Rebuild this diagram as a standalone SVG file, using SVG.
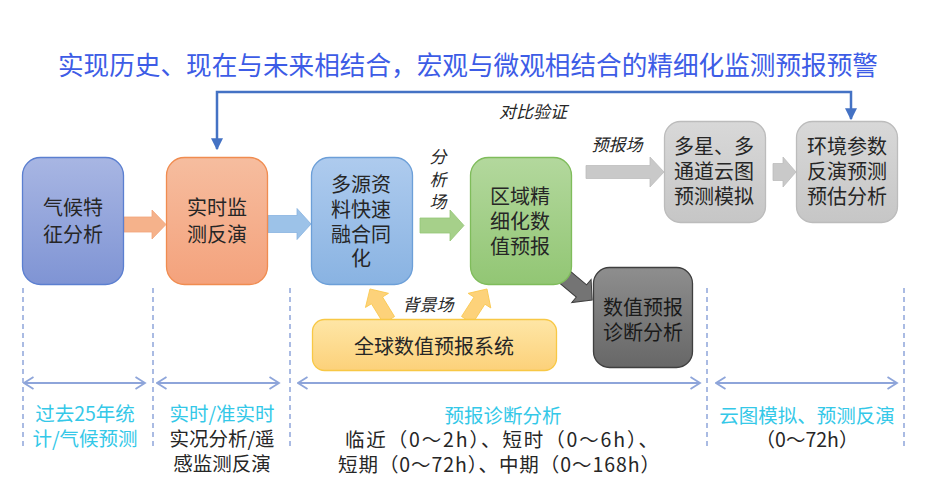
<svg xmlns="http://www.w3.org/2000/svg" width="934" height="503" viewBox="0 0 934 503">
<defs>
<linearGradient id="gBlue1" x1="0" y1="0" x2="0" y2="1"><stop offset="0" stop-color="#a8b6e3"/><stop offset="1" stop-color="#7f94d4"/></linearGradient>
<linearGradient id="gOrange" x1="0" y1="0" x2="0" y2="1"><stop offset="0" stop-color="#f6bd9f"/><stop offset="1" stop-color="#f4a27c"/></linearGradient>
<linearGradient id="gBlue2" x1="0" y1="0" x2="0" y2="1"><stop offset="0" stop-color="#aecbee"/><stop offset="1" stop-color="#89b3e2"/></linearGradient>
<linearGradient id="gGreen" x1="0" y1="0" x2="0" y2="1"><stop offset="0" stop-color="#b3d89d"/><stop offset="1" stop-color="#92c674"/></linearGradient>
<linearGradient id="gGray" x1="0" y1="0" x2="0" y2="1"><stop offset="0" stop-color="#d8d8d8"/><stop offset="1" stop-color="#c6c6c6"/></linearGradient>
<linearGradient id="gDark" x1="0" y1="0" x2="0" y2="1"><stop offset="0" stop-color="#8e8e8e"/><stop offset="1" stop-color="#676767"/></linearGradient>
<linearGradient id="gYellow" x1="0" y1="0" x2="0" y2="1"><stop offset="0" stop-color="#fee6a6"/><stop offset="1" stop-color="#fcd17a"/></linearGradient>
<marker id="tri" markerUnits="userSpaceOnUse" markerWidth="12" markerHeight="12" viewBox="0 0 10 10" refX="9" refY="5" orient="auto-start-reverse">
<path d="M0,0 L10,5 L0,10 Z" fill="#4472c4"/>
</marker>
<marker id="chev" markerUnits="userSpaceOnUse" markerWidth="12" markerHeight="14" viewBox="0 0 12 14" refX="10.5" refY="7" orient="auto-start-reverse">
<path d="M1,1 L10.5,7 L1,13" fill="none" stroke="#8ea5da" stroke-width="1.8"/>
</marker>
</defs>
<style>
text{font-family:"Noto Sans CJK SC","Microsoft YaHei",sans-serif;}
.t{font-size:20px;fill:#262626;text-anchor:middle;}
.lbl{font-size:17px;fill:#262626;text-anchor:middle;font-style:italic;}
.cy{font-size:19.5px;fill:#34c8e8;text-anchor:middle;}
.bk{font-size:19.5px;fill:#262626;text-anchor:middle;}
.c{fill:#34c8e8;}
.dash{stroke:#8ea5da;stroke-width:1.5;stroke-dasharray:5,4;fill:none;}
.span{stroke:#8ea5da;stroke-width:2;fill:none;marker-start:url(#chev);marker-end:url(#chev);}
</style>
<rect width="934" height="503" fill="#ffffff"/>
<text x="58" y="74.5" textLength="820" lengthAdjust="spacingAndGlyphs" style="font-size:26px;fill:#3d5ce6;">实现历史、现在与未来相结合，宏观与微观相结合的精细化监测预报预警</text>

<g id="guides">
<line class="dash" x1="23" y1="288" x2="23" y2="450"/>
<line class="dash" x1="153" y1="288" x2="153" y2="450"/>
<line class="dash" x1="290" y1="288" x2="290" y2="450"/>
<line class="dash" x1="707" y1="288" x2="707" y2="450"/>
<line class="dash" x1="904" y1="288" x2="904" y2="450"/>
<line class="span" x1="24" y1="383" x2="145" y2="383"/>
<line class="span" x1="157" y1="383" x2="279" y2="383"/>
<line class="span" x1="298" y1="383" x2="700" y2="383"/>
<line class="span" x1="716" y1="383" x2="897" y2="383"/>
</g>

<g id="connectors">
<path d="M217,149 L217,92 L851,92 L851,119" fill="none" stroke="#4472c4" stroke-width="2.5" marker-start="url(#tri)" marker-end="url(#tri)"/>
<text class="lbl" x="533" y="118">对比验证</text>
<path d="M124,217 L152,217 L152,210 L166,224.5 L152,239 L152,232 L124,232 Z" fill="#f5b28b" stroke="#f3a378" stroke-width="0.8"/>
<path d="M268,215.5 L297,215.5 L297,208.5 L311,224 L297,239.5 L297,232.5 L268,232.5 Z" fill="#9cc2e8" stroke="#88b3e0" stroke-width="0.8"/>
<path d="M420,218 L450,218 L450,210 L464,225.5 L450,241 L450,233 L420,233 Z" fill="#a6d08a" stroke="#95c676" stroke-width="0.8"/>
<text class="lbl" x="438" y="163"><tspan x="438">分</tspan><tspan x="438" dy="23">析</tspan><tspan x="438" dy="22">场</tspan></text>
<path d="M586,165.5 L650,165.5 L650,157 L664,172 L650,187 L650,178.5 L586,178.5 Z" fill="#c9c9c9" stroke="#bdbdbd" stroke-width="0.8"/>
<text class="lbl" x="617" y="151">预报场</text>
<path d="M773,163.5 L783,163.5 L783,157 L796,172 L783,187 L783,180.5 L773,180.5 Z" fill="#c9c9c9" stroke="#bdbdbd" stroke-width="0.8"/>
<path d="M0,-8 L28,-8 L28,-15 L42,0 L28,15 L28,8 L0,8 Z" transform="translate(560,273) rotate(40)" fill="#747474" stroke="#3f3f3f" stroke-width="1"/>
<path d="M0,-6.5 L23,-6.5 L23,-13.5 L36.4,0 L23,13.5 L23,6.5 L0,6.5 Z" transform="translate(389,320) rotate(-121.5)" fill="#fdd27a" stroke="#f9c84e" stroke-width="0.8"/>
<path d="M0,-6.5 L23,-6.5 L23,-13.5 L36.9,0 L23,13.5 L23,6.5 L0,6.5 Z" transform="translate(467,320) rotate(-57.2)" fill="#fdd27a" stroke="#f9c84e" stroke-width="0.8"/>
<text class="lbl" x="428" y="311">背景场</text>
</g>

<g id="n1">
<rect x="22.5" y="157.5" width="101" height="127" rx="18" fill="url(#gBlue1)" stroke="#5b7fd0" stroke-width="1.3"/>
<text class="t" x="73" y="215"><tspan x="73">气候特</tspan><tspan x="73" dy="27">征分析</tspan></text>
</g>
<g id="n2">
<rect x="166.5" y="157.5" width="101" height="127" rx="18" fill="url(#gOrange)" stroke="#f08c50" stroke-width="1.3"/>
<text class="t" x="217" y="215"><tspan x="217">实时监</tspan><tspan x="217" dy="27">测反演</tspan></text>
</g>
<g id="n3">
<rect x="311.5" y="157.5" width="101" height="127" rx="18" fill="url(#gBlue2)" stroke="#6c9fd8" stroke-width="1.3"/>
<text class="t" x="361" y="192"><tspan x="361">多源资</tspan><tspan x="361" dy="25">料快速</tspan><tspan x="361" dy="25">融合同</tspan><tspan x="361" dy="24">化</tspan></text>
</g>
<g id="n4">
<rect x="470.5" y="157.5" width="101" height="127" rx="18" fill="url(#gGreen)" stroke="#7fbc5b" stroke-width="1.3"/>
<text class="t" x="520" y="204"><tspan x="520">区域精</tspan><tspan x="520" dy="25">细化数</tspan><tspan x="520" dy="25">值预报</tspan></text>
</g>
<g id="n5">
<rect x="664.5" y="121.5" width="101" height="101" rx="16" fill="url(#gGray)" stroke="#bcbcbc" stroke-width="1.3"/>
<text class="t" x="714" y="154"><tspan x="714">多星、多</tspan><tspan x="714" dy="25">通道云图</tspan><tspan x="714" dy="25">预测模拟</tspan></text>
</g>
<g id="n6">
<rect x="796.5" y="121.5" width="101" height="101" rx="16" fill="url(#gGray)" stroke="#bcbcbc" stroke-width="1.3"/>
<text class="t" x="847" y="154"><tspan x="847">环境参数</tspan><tspan x="847" dy="25">反演预测</tspan><tspan x="847" dy="25">预估分析</tspan></text>
</g>
<g id="n7">
<rect x="593.5" y="267.5" width="99" height="100" rx="16" fill="url(#gDark)" stroke="#3f3f3f" stroke-width="1.3"/>
<text class="t" x="643" y="315" style="fill:#1a1a1a"><tspan x="643">数值预报</tspan><tspan x="643" dy="25">诊断分析</tspan></text>
</g>
<g id="n8">
<rect x="312.5" y="319.5" width="244" height="51" rx="12" fill="url(#gYellow)" stroke="#f8c845" stroke-width="1.3"/>
<text class="t" x="434" y="354">全球数值预报系统</text>
</g>

<g id="captions">
<text class="cy" x="85" y="421"><tspan x="85">过去25年统</tspan><tspan x="85" dy="25">计/气候预测</tspan></text>
<text class="bk" x="222" y="421"><tspan x="222" class="c">实时/准实时</tspan><tspan x="222" dy="25">实况分析/遥</tspan><tspan x="222" dy="25">感监测反演</tspan></text>
<text class="bk" x="503" y="423"><tspan x="503" class="c">预报诊断分析</tspan><tspan x="345" dy="24" text-anchor="start" textLength="313" lengthAdjust="spacing">临近（0～2h）、短时（0～6h）、</tspan><tspan x="338" dy="25" text-anchor="start" textLength="322" lengthAdjust="spacing">短期（0～72h）、中期（0～168h）</tspan></text>
<text class="bk" x="807" y="423"><tspan x="807" class="c">云图模拟、预测反演</tspan><tspan x="807" dy="24">（0～72h）</tspan></text>
</g>
</svg>
